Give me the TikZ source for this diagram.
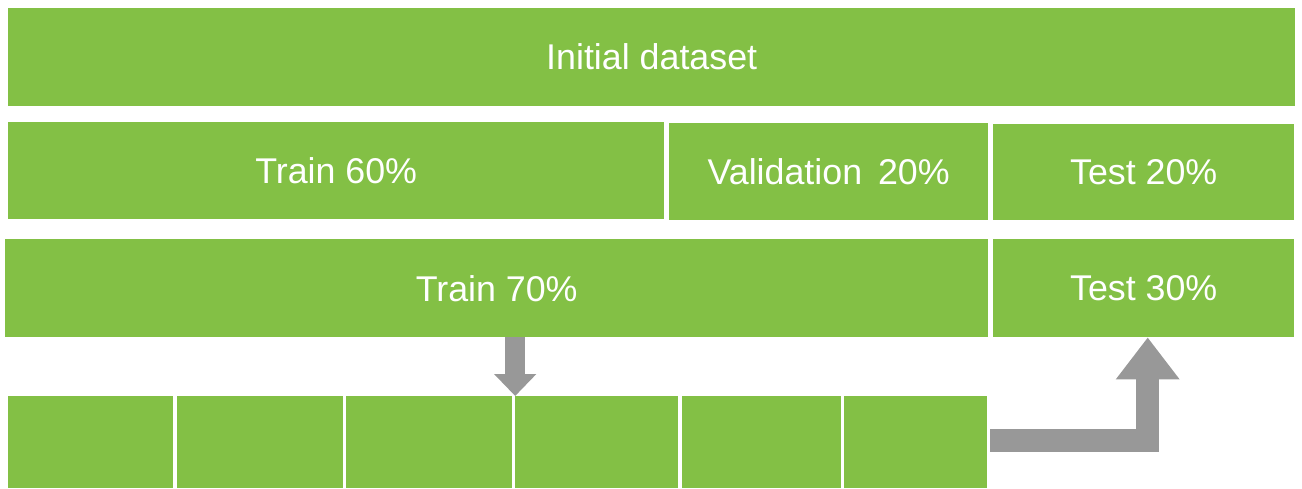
\documentclass[tikz,border=0pt]{standalone}
\usepackage{fontspec}
\setmainfont{Liberation Sans}
\usepackage{tikz}
\usetikzlibrary{arrows.meta,positioning,calc}
\definecolor{SplitGreen}{RGB}{131,192,69}
\definecolor{ArrGray}{RGB}{152,152,152}
\tikzset{
  part/.style={rectangle,fill=SplitGreen,text=white,inner sep=0pt,
               anchor=north west,font=\fontsize{35.8}{40}\selectfont},
  fold/.style={part,minimum height=92pt},
  blockarr/.style={ArrGray,line join=miter},
}

\begin{document}
\begin{tikzpicture}[x=1pt,y=-1pt]
  \useasboundingbox (0,0) rectangle (1302,488);
  % whole set
  \node[part,minimum width=1287pt,minimum height=98pt] (init) at (8,8) {Initial dataset};
  % three-way split
  \node[part,minimum width=656pt,minimum height=97pt] (tr60) at (8,122) {Train 60\%};
  \node[part,minimum width=319pt,minimum height=97pt] (val) at (669,123) {Validation\, 20\%};
  \node[part,minimum width=301pt,minimum height=96pt] (te20) at (993,124) {Test 20\%};
  % two-way split
  \node[part,minimum width=983pt,minimum height=98pt] (tr70) at (5,239) {Train 70\%};
  \node[part,minimum width=301pt,minimum height=98pt] (te30) at (993,239) {Test 30\%};
  % folds
  \node[fold,minimum width=165pt] (f1) at (8,396) {};
  \node[fold,minimum width=166pt,right=3pt of f1] (f2) {};
  \node[fold,minimum width=166pt,right=3pt of f2] (f3) {};
  \node[fold,minimum width=163pt,right=3pt of f3] (f4) {};
  \node[fold,minimum width=159pt,right=3pt of f4] (f5) {};
  \node[fold,minimum width=143pt,right=3pt of f5] (f6) {};
  % arrows
  \draw[blockarr,line width=20pt,-{Triangle[width=41pt,length=22pt]}]
    (tr70.south -| f4.north west) -- (f4.north west);
  \draw[blockarr,line width=23pt,-{Triangle[width=61pt,length=42pt]},shorten <=3pt]
    ($(f6.east)+(0,-2)$) -| ($(te30.south)+(4,0)$);
\end{tikzpicture}
\end{document}
